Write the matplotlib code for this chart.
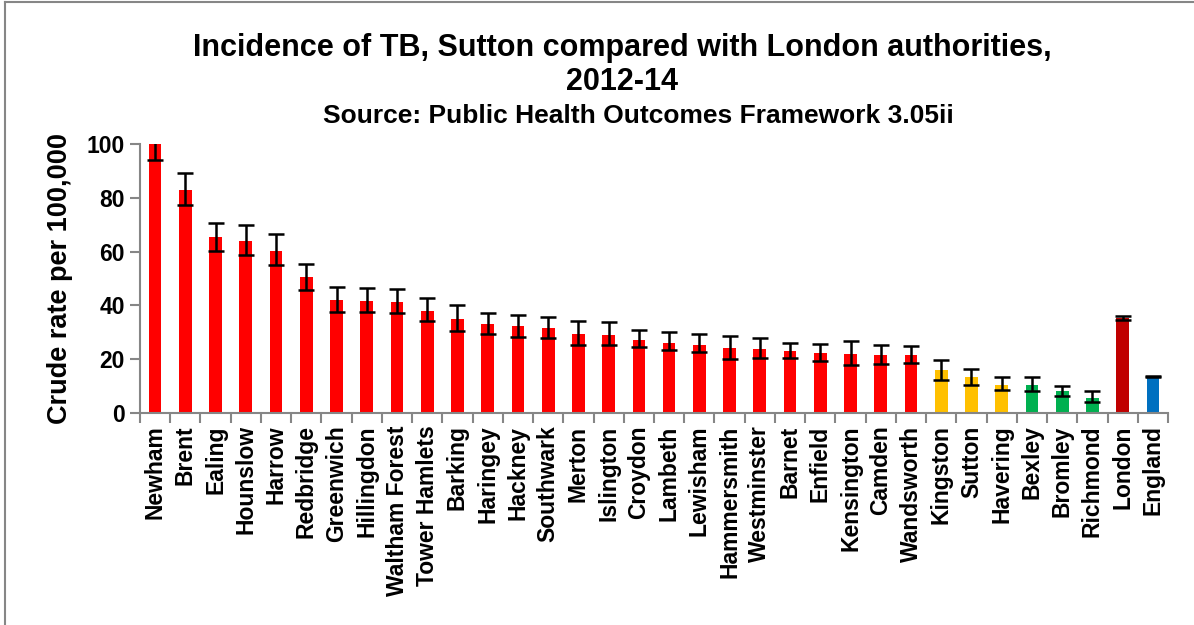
import matplotlib
matplotlib.use("Agg")
import matplotlib.pyplot as plt
import numpy as np

areas = ["Newham", "Brent", "Ealing", "Hounslow", "Harrow", "Redbridge", "Greenwich",
         "Hillingdon", "Waltham Forest", "Tower Hamlets", "Barking", "Haringey", "Hackney",
         "Southwark", "Merton", "Islington", "Croydon", "Lambeth", "Lewisham", "Hammersmith",
         "Westminster", "Barnet", "Enfield", "Kensington", "Camden", "Wandsworth", "Kingston",
         "Sutton", "Havering", "Bexley", "Bromley", "Richmond", "London", "England"]
rate = [100.0, 82.9, 65.3, 63.9, 60.3, 50.4, 42.1, 41.7, 41.3, 38.1, 34.8, 33.0, 32.3,
        31.5, 29.4, 29.0, 27.2, 26.2, 25.4, 24.1, 23.7, 23.1, 22.3, 21.8, 21.5, 21.5, 15.8,
        13.2, 10.5, 10.5, 8.3, 5.7, 35.5, 13.5]
ci_low = [94.0, 77.3, 60.4, 58.6, 55.0, 45.8, 37.6, 37.6, 37.1, 34.2, 30.5, 29.3, 28.4,
          28.0, 25.3, 25.2, 24.4, 23.3, 22.5, 20.1, 20.3, 20.3, 19.5, 18.0, 18.4, 18.7, 12.4,
          10.3, 8.4, 8.3, 6.3, 4.0, 34.6, 13.2]
ci_high = [106.0, 89.1, 70.6, 70.0, 66.4, 55.5, 46.9, 46.6, 46.0, 42.9, 40.2, 37.3, 36.6,
           35.7, 34.1, 33.7, 30.8, 30.0, 29.5, 28.8, 27.8, 26.2, 25.8, 26.9, 25.4, 24.8, 19.6,
           16.5, 13.4, 13.2, 9.9, 8.2, 36.2, 13.8]
group = ["worse"] * 26 + ["similar"] * 3 + ["better"] * 3 + ["london", "england"]
yticks = [0, 20, 40, 60, 80, 100]

group_colors = {"worse": "#FF0000", "similar": "#FFC000", "better": "#00B050",
                "london": "#C00000", "england": "#0070C0"}

plt.rcParams['font.family'] = ['Liberation Sans', 'DejaVu Sans']

fig = plt.figure(figsize=(11.94, 6.25), dpi=100)
ax = fig.add_axes([140/1194, 1-413/625, 1028/1194, 269/625])

x = np.arange(len(areas))
vals = np.array(rate)
yerr = np.vstack([vals - np.array(ci_low), np.array(ci_high) - vals])
ax.bar(x, vals, width=0.42, color=[group_colors[g] for g in group], zorder=2)
ax.errorbar(x, vals, yerr=yerr, fmt='none', ecolor='black', elinewidth=1.8,
            capsize=6, capthick=1.8, zorder=3)

ax.set_xlim(-0.5, len(areas) - 0.5)
ax.set_ylim(0, 100)
ax.set_yticks(yticks)
ax.set_yticklabels([str(t) for t in yticks], fontsize=16.5, fontweight='bold')
ax.set_xticks(x)
ax.set_xticklabels(areas, rotation=90, fontsize=16.5, fontweight='bold', ha='center', va='top')
ax.set_xticks(np.arange(len(areas) + 1) - 0.5, minor=True)
ax.tick_params(axis='x', which='major', length=0, pad=9)
ax.tick_params(axis='x', which='minor', length=7, width=1.5, color='#868686', direction='out')
ax.tick_params(axis='y', which='major', length=7, width=1.5, color='#868686', direction='out', pad=4)

for s in ['top', 'right']:
    ax.spines[s].set_visible(False)
for s in ['left', 'bottom']:
    ax.spines[s].set_color('#868686')
    ax.spines[s].set_linewidth(1.5)

ax.set_ylabel("Crude rate per 100,000", fontsize=19.5, fontweight='bold', labelpad=10)

fig.text(0.521, 1-48/625, "Incidence of TB, Sutton compared with London authorities,",
         ha='center', va='center', fontsize=22, fontweight='bold')
fig.text(0.521, 1-82/625, "2012-14", ha='center', va='center', fontsize=22, fontweight='bold')
fig.text(0.535, 1-116/625, "Source: Public Health Outcomes Framework 3.05ii",
         ha='center', va='center', fontsize=19, fontweight='bold')

# chart-area border (partially visible)
fig.add_artist(plt.Line2D([5/1194, 5/1194], [0, 1-2/625], color='#868686', lw=1.5,
                          transform=fig.transFigure))
fig.add_artist(plt.Line2D([5/1194, 1], [1-2/625, 1-2/625], color='#868686', lw=1.5,
                          transform=fig.transFigure))

fig.savefig("out.png", dpi=100)
